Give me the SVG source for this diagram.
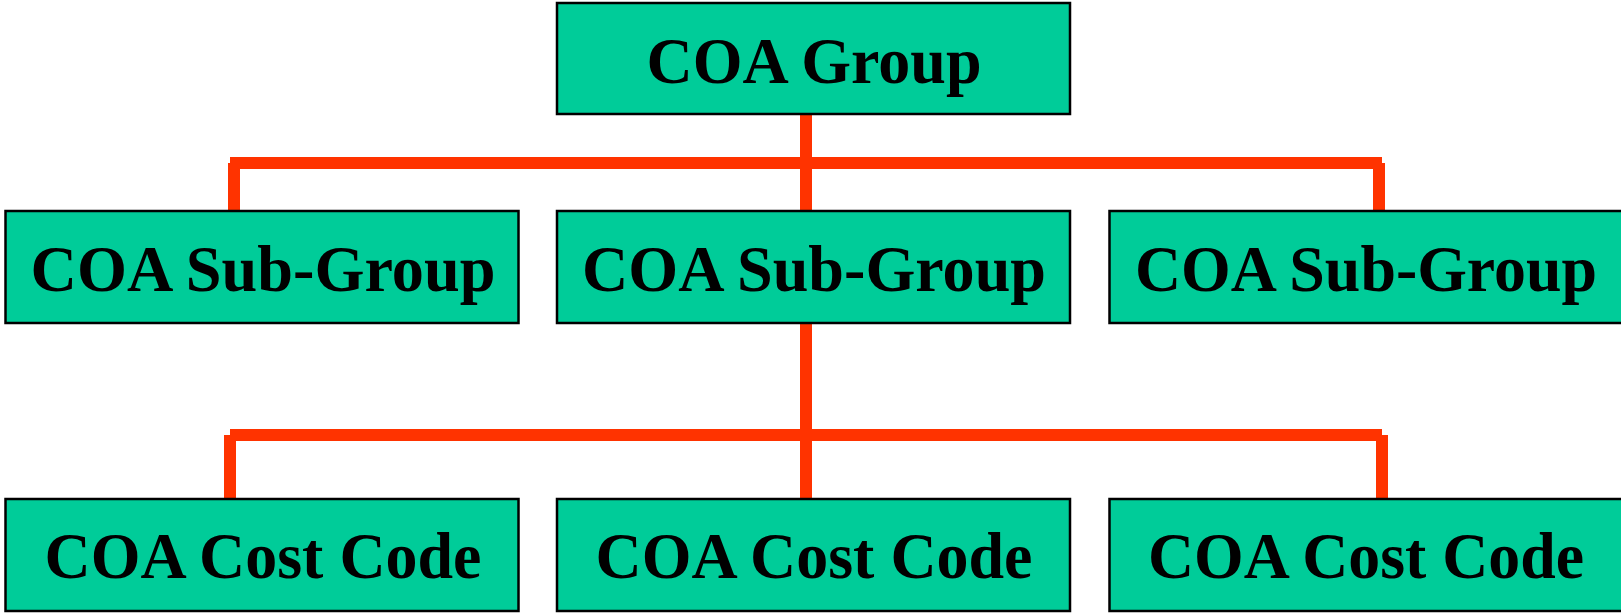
<svg xmlns="http://www.w3.org/2000/svg" width="1621" height="613" viewBox="0 0 1621 613">
<style>
.box{fill:#00CC99;stroke:#000;stroke-width:2.5}
.lbl{font-family:"Liberation Serif","Times New Roman",serif;font-weight:bold;font-size:66px;fill:#000;text-anchor:middle}
.con{fill:none;stroke:#FF3300;stroke-width:12;stroke-linecap:butt}
</style>
<rect width="1621" height="613" fill="#fff"/>
<g id="connectors">
<line class="con" x1="806" y1="114" x2="806" y2="211"/>
<line class="con" x1="230" y1="163" x2="1382" y2="163"/>
<line class="con" x1="234" y1="163" x2="234" y2="211"/>
<line class="con" x1="1379" y1="163" x2="1379" y2="211"/>
<line class="con" x1="806" y1="323" x2="806" y2="499"/>
<line class="con" x1="230" y1="435" x2="1382" y2="435"/>
<line class="con" x1="230" y1="435" x2="230" y2="499"/>
<line class="con" x1="1382" y1="435" x2="1382" y2="499"/>
</g>
<g id="coa-group">
<rect class="box" x="557" y="3" width="513" height="111"/>
<text class="lbl" x="814" y="83" textLength="335" lengthAdjust="spacingAndGlyphs">COA Group</text>
</g>
<g id="subgroup-left">
<rect class="box" x="5.5" y="211" width="513" height="112"/>
<text class="lbl" x="263" y="291" textLength="465" lengthAdjust="spacingAndGlyphs">COA Sub-Group</text>
</g>
<g id="subgroup-middle">
<rect class="box" x="557" y="211" width="513" height="112"/>
<text class="lbl" x="814" y="291" textLength="464" lengthAdjust="spacingAndGlyphs">COA Sub-Group</text>
</g>
<g id="subgroup-right">
<rect class="box" x="1109.5" y="211" width="515" height="112"/>
<text class="lbl" x="1366" y="291" textLength="462" lengthAdjust="spacingAndGlyphs">COA Sub-Group</text>
</g>
<g id="costcode-left">
<rect class="box" x="5.5" y="499" width="513" height="112"/>
<text class="lbl" x="263" y="578" textLength="437" lengthAdjust="spacingAndGlyphs">COA Cost Code</text>
</g>
<g id="costcode-middle">
<rect class="box" x="557" y="499" width="513" height="112"/>
<text class="lbl" x="814" y="578" textLength="437" lengthAdjust="spacingAndGlyphs">COA Cost Code</text>
</g>
<g id="costcode-right">
<rect class="box" x="1109.5" y="499" width="515" height="112"/>
<text class="lbl" x="1366" y="578" textLength="436" lengthAdjust="spacingAndGlyphs">COA Cost Code</text>
</g>
</svg>
